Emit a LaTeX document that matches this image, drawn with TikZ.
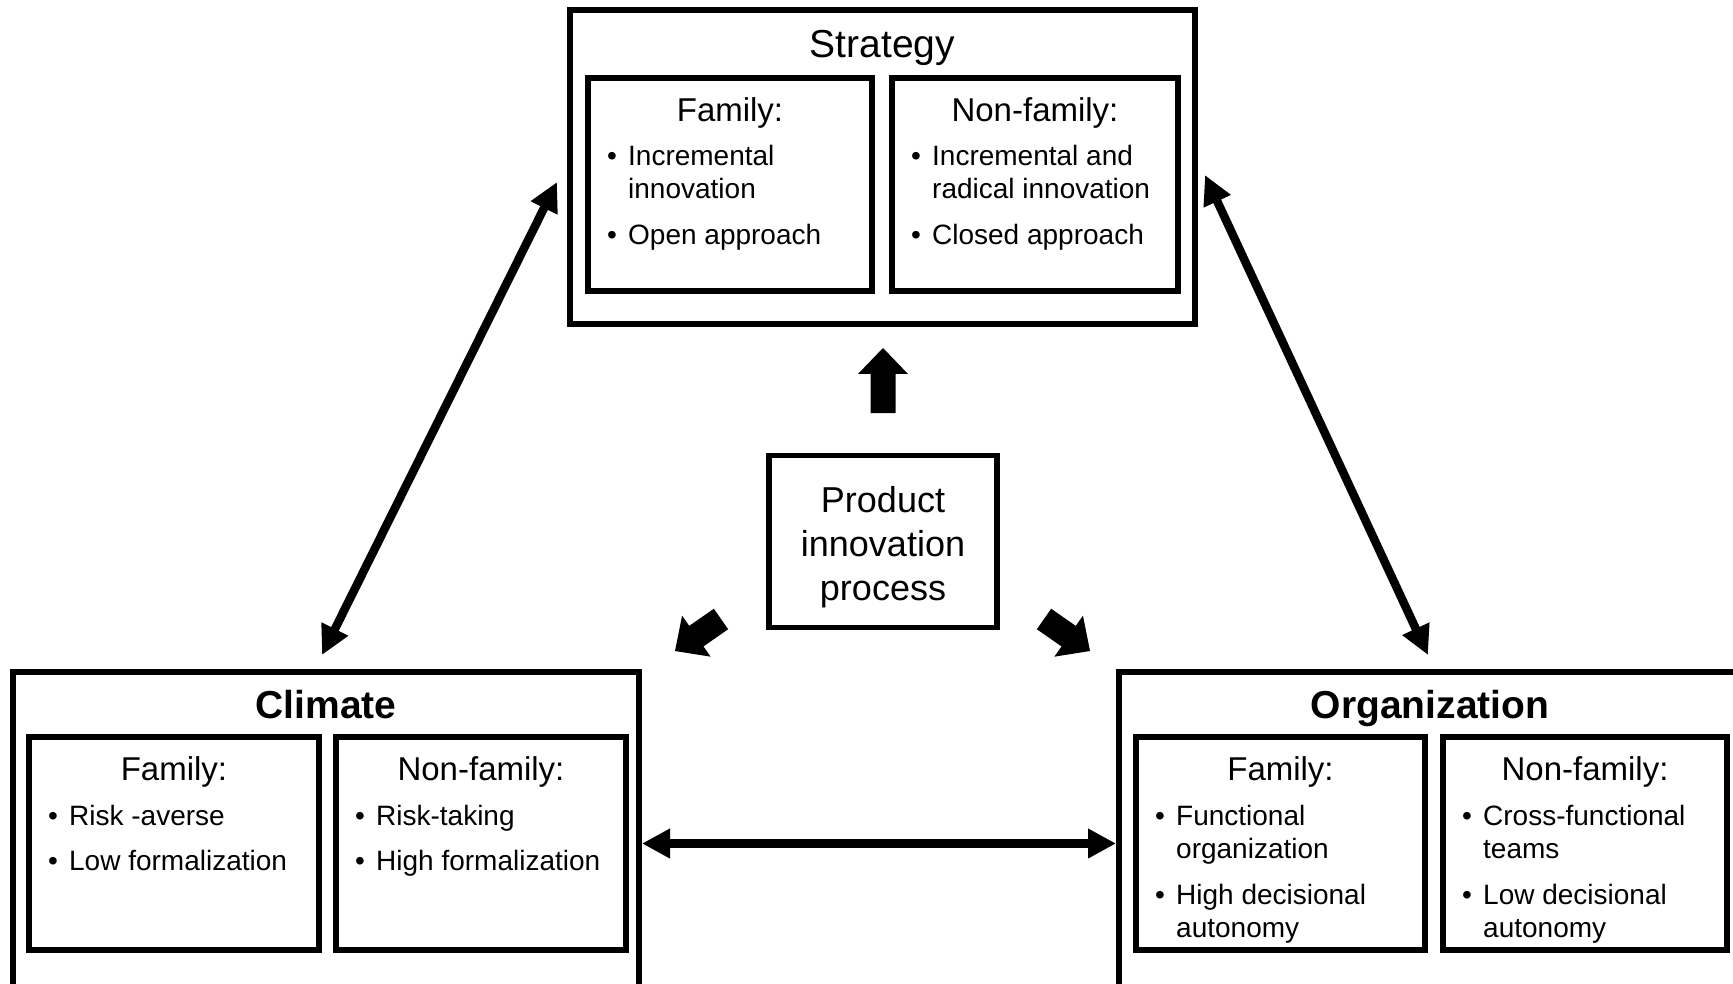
\documentclass[tikz,border=0pt]{standalone}
\usepackage{fontspec}
\setmainfont{Liberation Sans}
\usetikzlibrary{arrows.meta,calc}

% one bullet column of fixed width
\newcommand\bitem{\makebox[21pt][l]{\textbullet}}

% solid block arrow from a tail point to a tip point
\newcommand\blockarrow[2]{%
  \coordinate (ba-base) at ($(#2)!26pt!(#1)$);
  \fill ($(#1)!12.5pt!90:(#2)$) -- ($(ba-base)!12.5pt!90:(#2)$)
     -- ($(ba-base)!25pt!90:(#2)$) -- (#2)
     -- ($(ba-base)!25pt!-90:(#2)$) -- ($(ba-base)!12.5pt!-90:(#2)$)
     -- ($(#1)!12.5pt!-90:(#2)$) -- cycle;}

\begin{document}
\begin{tikzpicture}[x=1pt,y=-1pt,
  box/.style={draw, line width=6pt, inner sep=0pt, fill=white},
  titletext/.style={font=\fontsize{39}{44}\selectfont, inner sep=0pt, anchor=base},
  headtext/.style={font=\fontsize{33}{38}\selectfont, inner sep=0pt, anchor=base},
  listtext/.style={font=\fontsize{28}{33}\selectfont, inner sep=0pt, anchor=base west},
  dbl/.style={line width=8.5pt, {Triangle[length=29pt,width=28pt]}-{Triangle[length=29pt,width=28pt]}},
  hdbl/.style={line width=9pt, {Triangle[length=28pt,width=28pt]}-{Triangle[length=28pt,width=28pt]}}]

\useasboundingbox (0,0) rectangle (1733,984);
\fill[white] (0,0) rectangle (1733,984);
\clip (0,0) rectangle (1733,984);

% ---------- Strategy ----------
\node[box, minimum width=625pt, minimum height=314pt] (strategy) at (882.5,167) {};
\node[titletext] (strategy-title) at (882.5,58) {Strategy};
\node[box, minimum width=284pt, minimum height=213pt] (sfam) at (730,184.5) {};
\node[box, minimum width=286pt, minimum height=213pt] (snon) at (1035,184.5) {};
\node[headtext] (sfam-head) at (sfam.center |- 0,122) {Family:};
\node[headtext] (snon-head) at (snon.center |- 0,122) {Non-family:};
\node[listtext] (sfam-list) at (607,166) {\begin{tabular}[t]{@{}l@{}l@{}}
  \bitem & Incremental\\ & innovation\\[13pt] \bitem & Open approach\end{tabular}};
\node[listtext] (snon-list) at (911,166) {\begin{tabular}[t]{@{}l@{}l@{}}
  \bitem & Incremental and\\ & radical innovation\\[13pt] \bitem & Closed approach\end{tabular}};

% ---------- Climate ----------
\node[box, minimum width=626pt, minimum height=343pt] (climate) at (326,843.5) {};
\node[titletext, font=\fontsize{39}{44}\selectfont\bfseries] (climate-title) at (326,718) {Climate};
\node[box, minimum width=290pt, minimum height=213pt] (cfam) at (174,843.5) {};
\node[box, minimum width=290pt, minimum height=213pt] (cnon) at (481,843.5) {};
\node[headtext] (cfam-head) at (cfam.center |- 0,780) {Family:};
\node[headtext] (cnon-head) at (cnon.center |- 0,780) {Non-family:};
\node[listtext] (cfam-list) at (48,825) {\begin{tabular}[t]{@{}l@{}l@{}}
  \bitem & Risk -averse\\[12pt] \bitem & Low formalization\end{tabular}};
\node[listtext] (cnon-list) at (355,825) {\begin{tabular}[t]{@{}l@{}l@{}}
  \bitem & Risk-taking\\[12pt] \bitem & High formalization\end{tabular}};

% ---------- Organization ----------
\node[box, minimum width=626pt, minimum height=343pt] (organization) at (1432,843.5) {};
\node[titletext, font=\fontsize{39}{44}\selectfont\bfseries] (organization-title) at (1430,718) {Organization};
\node[box, minimum width=289pt, minimum height=213pt] (ofam) at (1280.5,843.5) {};
\node[box, minimum width=284pt, minimum height=213pt] (onon) at (1585,843.5) {};
\node[headtext] (ofam-head) at (ofam.center |- 0,780) {Family:};
\node[headtext] (onon-head) at (onon.center |- 0,780) {Non-family:};
\node[listtext] (ofam-list) at (1155,825) {\begin{tabular}[t]{@{}l@{}l@{}}
  \bitem & Functional\\ & organization\\[13pt] \bitem & High decisional\\ & autonomy\end{tabular}};
\node[listtext] (onon-list) at (1462,825) {\begin{tabular}[t]{@{}l@{}l@{}}
  \bitem & Cross-functional\\ & teams\\[13pt] \bitem & Low decisional\\ & autonomy\end{tabular}};

% ---------- Product innovation process ----------
\node[draw, line width=5.5pt, inner sep=0pt, minimum width=228pt, minimum height=172pt]
      (product) at (883,541.5) {};
\node[inner sep=0pt, align=center, font=\fontsize{36}{44}\selectfont] (product-text)
      at (883,547) {Product\\innovation\\process};

% block arrows leaving the process box
\coordinate (up-tail) at (883,413);   \coordinate (up-tip) at (883,348);
\coordinate (dl-tail) at (721,619);   \coordinate (dl-tip) at (675,651);
\coordinate (dr-tail) at (1044,619);  \coordinate (dr-tip) at (1090,651);
\blockarrow{up-tail}{up-tip}
\blockarrow{dl-tail}{dl-tip}
\blockarrow{dr-tail}{dr-tip}

% two-way links between the three blocks
\coordinate (cs-low) at (322,655);   \coordinate (cs-high) at (557,182);
\coordinate (so-high) at (1205,175); \coordinate (so-low) at (1428,655);
\draw[dbl] (cs-low) -- (cs-high);
\draw[dbl] (so-high) -- (so-low);
\draw[hdbl] (climate.east) -- (organization.west);

\end{tikzpicture}
\end{document}
